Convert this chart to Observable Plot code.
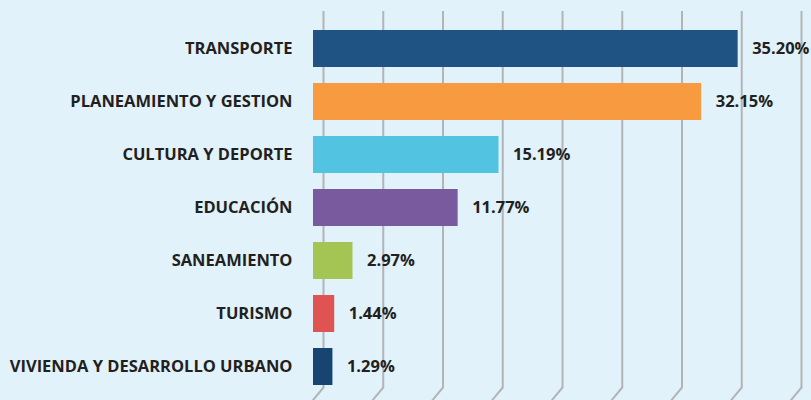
<!DOCTYPE html>
<html>
<head>
<meta charset="utf-8">
<script src="https://cdn.jsdelivr.net/npm/d3@7"></script>
<script src="https://cdn.jsdelivr.net/npm/@observablehq/plot@0.6"></script>
<style>
  html, body { margin: 0; padding: 0; background: #e1f2fb; }
  #chart svg { display: block; }
</style>
</head>
<body>
<div id="chart"></div>
<script>
const categories = [
  "TRANSPORTE",
  "PLANEAMIENTO Y GESTION",
  "CULTURA Y DEPORTE",
  "EDUCACIÓN",
  "SANEAMIENTO",
  "TURISMO",
  "VIVIENDA Y DESARROLLO URBANO"
];
const values = [35.20, 32.15, 15.19, 11.77, 2.97, 1.44, 1.29];
const colors = ["#1f5383", "#f79a40", "#52c3e1", "#7a5a9f", "#a4c553", "#df5352", "#164572"];
const gridTicks = [0, 5, 10, 15, 20, 25, 30, 35, 40];

const data = categories.map((c, i) => ({cat: c, v: values[i]}));

const lineShape = {
  draw(context, l) {
    context.moveTo(0, 0);
    context.lineTo(0, -l);
  }
};

const gridColor = "#b2b4b6";

const chart = Plot.plot({
  width: 811,
  height: 400,
  marginLeft: 317,
  marginRight: 16,
  marginTop: 11,
  marginBottom: 13,
  style: {background: "#e1f2fb", fontFamily: "'Open Sans', sans-serif"},
  x: {domain: [0, 40], axis: null},
  y: {domain: categories, range: [28, 387], paddingInner: 0.31, paddingOuter: 0, axis: null},
  color: {domain: categories, range: colors},
  marks: [
    Plot.ruleX(gridTicks, {x: d => d, dx: 6, stroke: gridColor, strokeWidth: 2}),
    Plot.vector(gridTicks, {
      x: d => d, frameAnchor: "bottom", length: 17, rotate: 220, anchor: "start",
      dx: 6, stroke: gridColor, strokeWidth: 2, fill: "none", shape: lineShape
    }),
    Plot.barX(data, {x: "v", y: "cat", fill: "cat", insetLeft: -4}),
    Plot.text(data, {
      y: "cat", text: "cat", frameAnchor: "left", dx: -25, textAnchor: "end",
      fontSize: 16.5, fontWeight: "bold", fill: "#231f20"
    }),
    Plot.text(data, {
      x: "v", y: "cat", text: d => d.v.toFixed(2) + "%", dx: 14, textAnchor: "start",
      fontSize: 16.5, fontWeight: "bold", fill: "#231f20"
    })
  ]
});
document.getElementById("chart").appendChild(chart);
</script>
</body>
</html>
